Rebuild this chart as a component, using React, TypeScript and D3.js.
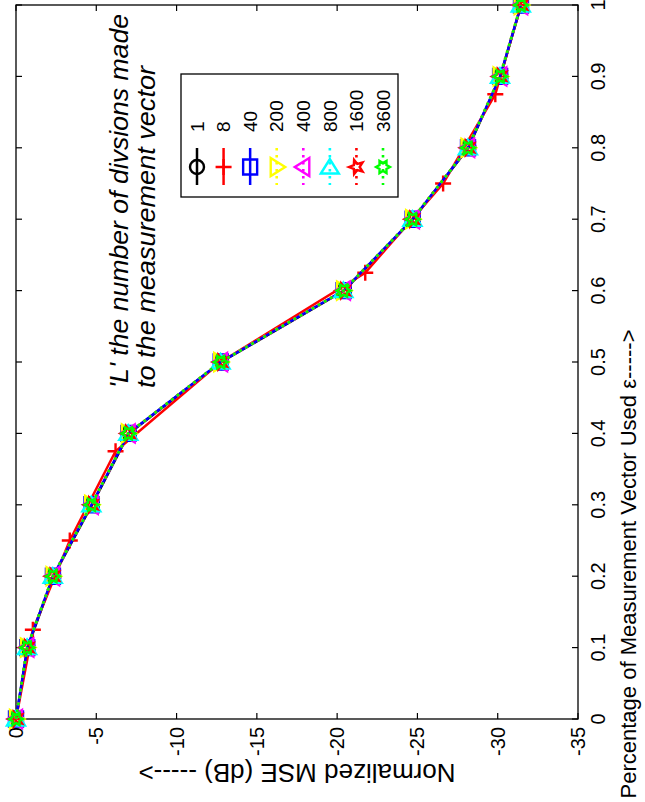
import React, { useRef, useEffect } from 'react';
import * as d3 from 'd3';

const W = 645;
const H = 802;

// measurement fraction (eps) sampled at tenths and at eighths (L = 8)
const epsTenths = [0, 0.1, 0.2, 0.3, 0.4, 0.5, 0.6, 0.7, 0.8, 0.9, 1];
const epsEighths = [0, 0.125, 0.25, 0.375, 0.5, 0.625, 0.75, 0.875, 1];

// normalized MSE (dB) for each L
const mseL1 = [0, -0.72, -2.33, -4.73, -7.03, -12.78, -20.44, -24.73, -28.17, -30.17, -31.46];
const mseL8 = [0, -1.05, -3.35, -6.2, -12.75, -21.75, -26.6, -29.85, -31.45];
const mseL40 = [0, -0.7, -2.3, -4.7, -7.0, -12.75, -20.4, -24.7, -28.15, -30.15, -31.45];
const mseL200 = [0, -0.68, -2.28, -4.68, -6.97, -12.72, -20.37, -24.67, -28.12, -30.12, -31.43];
const mseL400 = [0, -0.71, -2.31, -4.72, -7.02, -12.77, -20.42, -24.72, -28.16, -30.16, -31.46];
const mseL800 = [0, -0.69, -2.29, -4.69, -6.99, -12.74, -20.39, -24.69, -28.14, -30.14, -31.44];
const mseL1600 = [0, -0.7, -2.3, -4.7, -7.0, -12.75, -20.4, -24.7, -28.15, -30.15, -31.45];
const mseL3600 = [0, -0.7, -2.3, -4.7, -7.0, -12.75, -20.4, -24.7, -28.15, -30.15, -31.45];

const legendLabels = ['1', '8', '40', '200', '400', '800', '1600', '3600'];
const mseTicks = [0, -5, -10, -15, -20, -25, -30, -35];
const epsTicks = [0, 0.1, 0.2, 0.3, 0.4, 0.5, 0.6, 0.7, 0.8, 0.9, 1];

const seriesEps = [epsTenths, epsEighths, epsTenths, epsTenths, epsTenths, epsTenths, epsTenths, epsTenths];
const seriesMse = [mseL1, mseL8, mseL40, mseL200, mseL400, mseL800, mseL1600, mseL3600];
const seriesColor = ['#000000', '#ff0000', '#0000ff', '#ffff00', '#ff00ff', '#00ffff', '#ff0000', '#00ff00'];
const seriesMarker = ['circle', 'plus', 'square', 'triRight', 'triLeft', 'triUp', 'pentagram', 'hexagram'];
const seriesDotted = [false, false, false, true, true, true, true, true];

const FONT = 'Liberation Sans, Arial, Helvetica, sans-serif';

const starPath = (n: number, outer: number, inner: number, start: number) => {
  const pts: string[] = [];
  for (let i = 0; i < n * 2; i++) {
    const r = i % 2 === 0 ? outer : inner;
    const a = start + (i * Math.PI) / n;
    pts.push(`${(r * Math.cos(a)).toFixed(2)},${(r * Math.sin(a)).toFixed(2)}`);
  }
  return 'M' + pts.join('L') + 'Z';
};

const markerPath = (kind: string) => {
  switch (kind) {
    case 'circle':
      return 'M-7,0A7,7 0 1,0 7,0A7,7 0 1,0 -7,0Z';
    case 'plus':
      return 'M-8,0H8M0,-8V8';
    case 'square':
      return 'M-7,-7.5H7V7.5H-7Z';
    case 'triRight':
      return 'M-6,-9L8.5,0L-6,9Z';
    case 'triLeft':
      return 'M6,-9L-8.5,0L6,9Z';
    case 'triUp':
      return 'M-9,6.5L0,-8L9,6.5Z';
    case 'pentagram':
      return starPath(5, 7.5, 3.2, Math.PI);
    default:
      return starPath(6, 7, 4, 0);
  }
};

const App = () => {
  const svgRef = useRef<SVGSVGElement>(null);

  useEffect(() => {
    const svg = d3.select(svgRef.current);
    svg.selectAll('*').remove();

    const xScale = d3.scaleLinear().domain([0, -35]).range([16, 578]);
    const yScale = d3.scaleLinear().domain([0, 1]).range([719, 5]);

    const [x0, x1] = xScale.range();
    const [y0, y1] = yScale.range();

    // frame
    svg
      .append('rect')
      .attr('x', x0)
      .attr('y', y1)
      .attr('width', x1 - x0)
      .attr('height', y0 - y1)
      .attr('fill', 'none')
      .attr('stroke', '#000')
      .attr('stroke-width', 1.3);

    // ticks (inward, all four sides)
    const ticks = svg.append('g').attr('stroke', '#000').attr('stroke-width', 1.2);
    mseTicks.forEach(t => {
      const x = xScale(t);
      ticks.append('line').attr('x1', x).attr('x2', x).attr('y1', y0).attr('y2', y0 - 6);
      ticks.append('line').attr('x1', x).attr('x2', x).attr('y1', y1).attr('y2', y1 + 6);
    });
    epsTicks.forEach(t => {
      const y = yScale(t);
      ticks.append('line').attr('x1', x0).attr('x2', x0 + 6).attr('y1', y).attr('y2', y);
      ticks.append('line').attr('x1', x1).attr('x2', x1 - 6).attr('y1', y).attr('y2', y);
    });

    // tick labels
    svg
      .append('g')
      .selectAll('text')
      .data(mseTicks)
      .join('text')
      .attr('transform', d => `translate(${xScale(d)},727) rotate(-90)`)
      .attr('dy', '0.35em')
      .attr('text-anchor', 'end')
      .attr('font-family', FONT)
      .attr('font-size', 20)
      .text(d => `${d}`);

    svg
      .append('g')
      .selectAll('text')
      .data(epsTicks)
      .join('text')
      .attr('transform', d => `translate(605,${yScale(d)}) rotate(-90)`)
      .attr('text-anchor', 'middle')
      .attr('font-family', FONT)
      .attr('font-size', 20)
      .text(d => `${d}`);

    // axis labels
    svg
      .append('text')
      .attr('transform', 'translate(297,764) rotate(180)')
      .attr('text-anchor', 'middle')
      .attr('font-family', FONT)
      .attr('font-size', 26)
      .text('Normalized MSE (dB) ----->');

    svg
      .append('text')
      .attr('transform', 'translate(636,564) rotate(-90)')
      .attr('text-anchor', 'middle')
      .attr('font-family', FONT)
      .attr('font-size', 22)
      .text('Percentage of Measurement Vector Used \u03b5----->');

    // annotation
    const note = svg
      .append('g')
      .attr('font-family', FONT)
      .attr('font-style', 'italic')
      .attr('font-size', 26);
    note
      .append('text')
      .attr('transform', 'translate(128,388) rotate(-90)')
      .attr('textLength', 374)
      .attr('lengthAdjust', 'spacingAndGlyphs')
      .text("'L' the number of divsions made");
    note
      .append('text')
      .attr('transform', 'translate(155,388) rotate(-90)')
      .attr('textLength', 322)
      .attr('lengthAdjust', 'spacingAndGlyphs')
      .text('to the measurement vector');

    // series
    const line = d3
      .line<[number, number]>()
      .x(d => xScale(d[0]))
      .y(d => yScale(d[1]));

    seriesMse.forEach((mse, i) => {
      const pts: [number, number][] = mse.map((m, j) => [m, seriesEps[i][j]]);
      const g = svg.append('g');
      g.append('path')
        .attr('d', line(pts))
        .attr('fill', 'none')
        .attr('stroke', seriesColor[i])
        .attr('stroke-width', seriesDotted[i] ? 2.6 : 2.5)
        .attr('stroke-dasharray', seriesDotted[i] ? '2.6,4.4' : null);
      g.selectAll('path.m')
        .data(pts)
        .join('path')
        .attr('class', 'm')
        .attr('transform', d => `translate(${xScale(d[0])},${yScale(d[1])})`)
        .attr('d', markerPath(seriesMarker[i]))
        .attr('fill', 'none')
        .attr('stroke', seriesColor[i])
        .attr('stroke-width', 2.4);
    });

    // legend
    const legendX = d3.scaleLinear().domain([0, legendLabels.length - 1]).range([197, 383]);
    const legend = svg.append('g');
    legend
      .append('rect')
      .attr('x', 181)
      .attr('y', 74)
      .attr('width', 217)
      .attr('height', 123)
      .attr('fill', '#fff')
      .attr('stroke', '#000')
      .attr('stroke-width', 1.3);

    legendLabels.forEach((lab, i) => {
      const x = legendX(i);
      legend
        .append('line')
        .attr('x1', x)
        .attr('x2', x)
        .attr('y1', 148)
        .attr('y2', 185)
        .attr('stroke', seriesColor[i])
        .attr('stroke-width', seriesDotted[i] ? 2.6 : 2.5)
        .attr('stroke-dasharray', seriesDotted[i] ? '2.6,4.4' : null);
      legend
        .append('path')
        .attr('transform', `translate(${x},167)`)
        .attr('d', markerPath(seriesMarker[i]))
        .attr('fill', 'none')
        .attr('stroke', seriesColor[i])
        .attr('stroke-width', 2.4);
      legend
        .append('text')
        .attr('transform', `translate(${x},132) rotate(-90)`)
        .attr('dy', '0.35em')
        .attr('font-family', FONT)
        .attr('font-size', 19)
        .text(lab);
    });
  }, []);

  return (
    <svg
      ref={svgRef}
      width={W}
      height={H}
      style={{ position: 'absolute', left: 0, top: 0, background: '#fff' }}
    />
  );
};

export default App;
